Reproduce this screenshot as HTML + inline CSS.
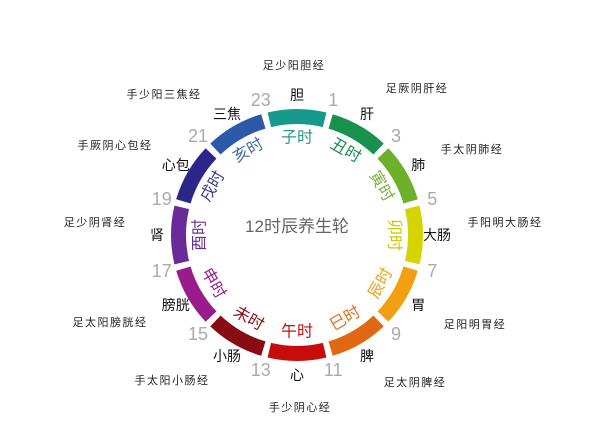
<!DOCTYPE html>
<html><head><meta charset="utf-8"><style>
html,body{margin:0;padding:0;background:#fff;width:600px;height:428px;overflow:hidden}
svg{display:block;font-family:"Liberation Sans","Noto Sans CJK SC",sans-serif}
</style></head><body>
<svg id="s" width="600" height="428" viewBox="0 0 600 428" xmlns="http://www.w3.org/2000/svg">
<text x="297" y="232" text-anchor="middle" font-size="17" fill="#666">12时辰养生轮</text>
</svg>
<script>
var s=document.getElementById('s'),NS='http://www.w3.org/2000/svg',cx=297,cy=235;
function el(t,a,txt){var e=document.createElementNS(NS,t);for(var k in a)e.setAttribute(k,a[k]);if(txt)e.textContent=txt;s.appendChild(e);return e;}
function pt(r,a){a=a*Math.PI/180;return [cx+r*Math.sin(a),cy-r*Math.cos(a)];}
var segs=[['子时','#179a8c'],['丑时','#18904e'],['寅时','#6cb02c'],['卯时','#d6d400'],['辰时','#f2a012'],['巳时','#e06812'],['午时','#c80c0c'],['未时','#880c14'],['申时','#9a1c8c'],['酉时','#6a2a98'],['戌时','#2c268a'],['亥时','#2c5aa8']];
var txtc=['#2a9a8c','#1a8a50','#7ab040','#c8c800','#f0a020','#e07020','#c01010','#8a1018','#9a2090','#6a3098','#3a3a90','#4a6aa8'];
var R1=111,R2=126;
segs.forEach(function(g,i){var a0=i*30-13.5,a1=i*30+13.5;
var p1=pt(R2,a0),p2=pt(R2,a1),p3=pt(R1,a1),p4=pt(R1,a0);
el('path',{d:'M'+p1+' A'+R2+' '+R2+' 0 0 1 '+p2+' L'+p3+' A'+R1+' '+R1+' 0 0 0 '+p4+' Z',fill:g[1]});
var a=i*30,p=pt(97,a),rot=(a>90&&a<270)?a-180:a;if(a==270)rot=-90;
el('text',{x:p[0],y:p[1],'text-anchor':'middle','dominant-baseline':'central','font-size':16,fill:txtc[i],transform:'rotate('+rot+' '+p[0]+' '+p[1]+')'},g[0]);});
var nums=['1','3','5','7','9','11','13','15','17','19','21','23'];
nums.forEach(function(n,i){var p=pt(140,i*30+15);el('text',{x:p[0],y:p[1],'text-anchor':'middle','dominant-baseline':'central','font-size':18,fill:'#aaa'},n);});
var org=['胆','肝','肺','大肠','胃','脾','心','小肠','膀胱','肾','心包','三焦'];
org.forEach(function(n,i){var p=pt(140,i*30);el('text',{x:p[0],y:p[1],'text-anchor':'middle','dominant-baseline':'central','font-size':14,fill:'#111'},n);});
var mer=[['足少阳胆经',294,66],['足厥阴肝经',417,89],['手太阴肺经',472,150],['手阳明大肠经',505,223],['足阳明胃经',475,325],['足太阴脾经',415,383],['手少阴心经',300,408],['手太阳小肠经',172,381],['足太阳膀胱经',110,323],['足少阴肾经',95,223],['手厥阴心包经',115,146],['手少阳三焦经',164,95]];
mer.forEach(function(m){el('text',{x:m[1],y:m[2],'text-anchor':'middle','dominant-baseline':'central','font-size':11,'letter-spacing':1.5,fill:'#222'},m[0]);});
</script>
</body></html>
